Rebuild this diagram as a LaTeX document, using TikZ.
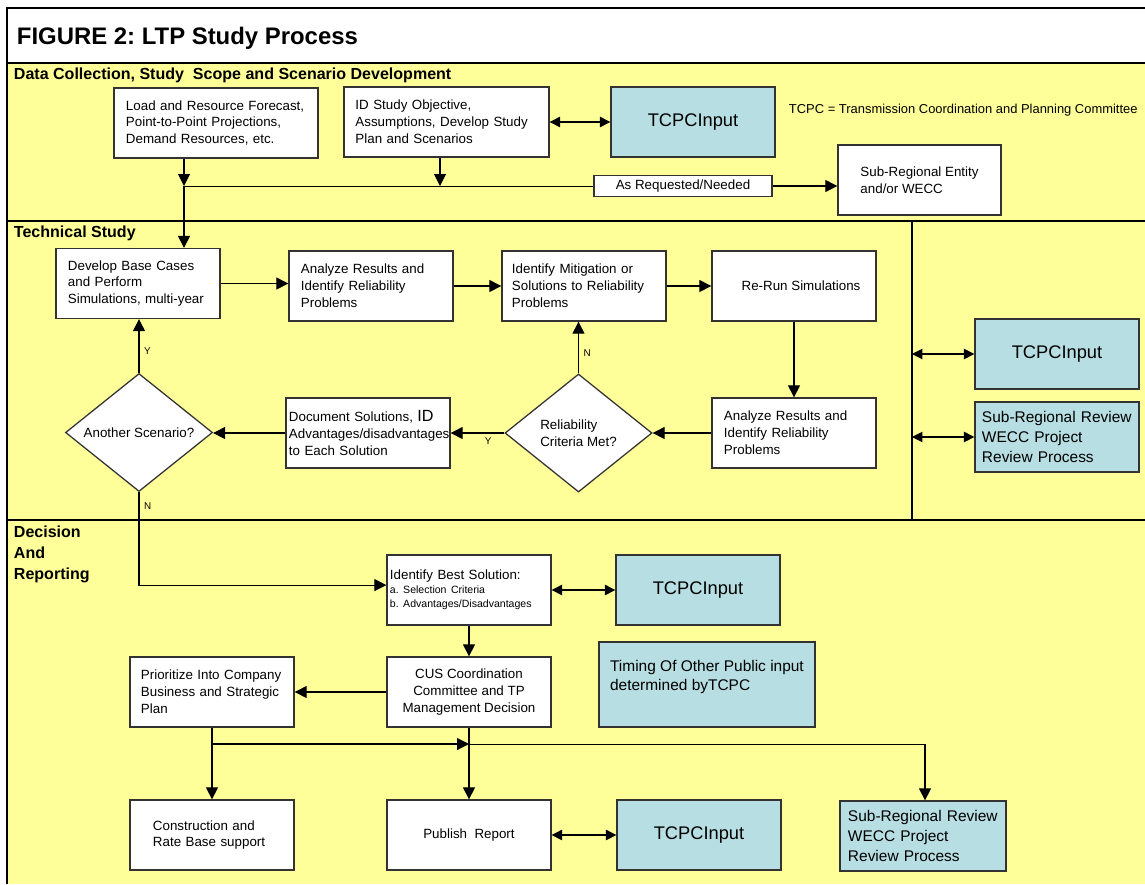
\documentclass[tikz,border=0pt]{standalone}
\usepackage{fontspec}
\setmainfont{Liberation Sans}
\usepackage{tikz}
\usetikzlibrary{calc,shapes.geometric,arrows.meta}
\usepackage{xcolor}
\definecolor{fond}{RGB}{255,255,153}
\definecolor{bleu}{RGB}{183,222,226}
\frenchspacing

\begin{document}
\begin{tikzpicture}[x=0.025cm,y=-0.025cm,
    boite/.style={draw=black!80,line width=0.9pt,fill=white,minimum width=4.1cm,minimum height=1.75cm,inner sep=2pt,align=left,font=\fontsize{9.5}{12}\selectfont},
    tcpc/.style={boite,fill=bleu,align=center,font=\fontsize{13}{15}\selectfont},
    revue/.style={boite,fill=bleu,text width=3.75cm,font=\fontsize{11}{14}\selectfont},
    losange/.style={diamond,aspect=1.25,draw=black!80,line width=0.9pt,fill=white,minimum width=3.675cm,minimum height=2.95cm,inner sep=1pt,align=left,font=\fontsize{9.5}{12}\selectfont},
    fleche/.style={-{Triangle[length=3mm,width=3mm]},line width=0.75pt},
    deux/.style={{Triangle[length=2.6mm,width=2.6mm]}-{Triangle[length=2.6mm,width=2.6mm]},line width=0.75pt},
    zone/.style={anchor=west,font=\bfseries\fontsize{11.4}{14}\selectfont},
    yn/.style={font=\fontsize{7}{8}\selectfont}]

      \useasboundingbox (0,0) rectangle (1145,884);

      % Cadre
      \fill[white] (8,8) rectangle (1145,63);
      \fill[fond] (8,63) rectangle (1145,884);
      \draw[line width=1pt] (8,63) -- (1145,63);
      \draw[line width=1pt] (8,221) -- (1145,221);
      \draw[line width=1pt] (8,520) -- (1145,520);
      \draw[line width=0.8pt] (912,221) -- (912,520);
      \draw[line width=2pt] (7,884) -- (7,8) -- (1145,8);

      \node[anchor=west,font=\bfseries\fontsize{17}{20}\selectfont] (titre) at (12,38) {FIGURE 2: LTP Study Process};
      \node[zone] (zoneA) at (9,75) {Data Collection, Study\ \ Scope and Scenario Development};
      \node[zone] (zoneB) at (9,233) {Technical Study};
      \node[zone,anchor=north west,align=left,font=\bfseries\fontsize{11.4}{15}\selectfont] (zoneC) at (9,521) {Decision\\And\\Reporting};

      % Collecte
      \node[boite,minimum width=5.1cm,text width=4.5cm] (load) at (216,123) {Load and Resource Forecast,\\Point-to-Point Projections,\\Demand Resources, etc.};
      \node[boite,minimum width=5.125cm,text width=4.55cm] (idobj) at (446.5,122) {ID Study Objective,\\Assumptions, Develop Study\\Plan and Scenarios};
      \node[tcpc] (tcpcA) at (693,122) {TCPCInput};
      \node[anchor=west,font=\fontsize{9.2}{12}\selectfont] (sigle) at (784,110) {TCPC = Transmission Coordination and Planning Committee};
      \node[boite,minimum width=4.075cm] (subent) at (919.5,180) {Sub-Regional Entity\\and/or WECC};
      \node[boite,minimum width=4.45cm,minimum height=0.525cm,align=center,inner sep=1pt] (asreq) at (683,186) {As Requested/Needed};

      \coordinate (jA) at (184,186);
      \coordinate (jB) at (440,186);
      \draw[fleche] (load.south -| jA) -- (jA);
      \draw[fleche] (idobj.south -| jB) -- (jB);
      \draw (jA) -- (asreq.west);
      \draw[fleche] (asreq.east) -- (asreq.east -| subent.west);
      \draw[deux] (idobj.east) -- (tcpcA.west);

      % Etude technique
      \node[boite,text width=3.5cm] (develop) at (138,283.5) {Develop Base Cases\\and Perform\\Simulations, multi-year};
      \node[boite,text width=3.5cm] (anaA) at (371,286) {Analyze Results and\\Identify Reliability\\Problems};
      \node[boite,text width=3.6cm] (mitig) at (584,286) {Identify Mitigation or\\Solutions to Reliability\\Problems};
      \node[boite] (rerun) at (794,286) {\hspace*{10pt}Re-Run Simulations};
      \node[boite,text width=3.5cm] (anaB) at (794,433) {Analyze Results and\\Identify Reliability\\Problems};
      \node[losange] (relia) at (578.5,433) {Reliability\\Criteria Met?};
      \node[boite,text width=3.95cm] (docsol) at (368,433) {Document Solutions, {\fontsize{11.5}{12}\selectfont ID}\\Advantages/disadvantages\\to Each Solution};
      \node[losange] (another) at (139,432.5) {Another Scenario?};
      \node[tcpc] (tcpcB) at (1057,354) {TCPCInput};
      \node[revue] (subrevA) at (1057,437) {Sub-Regional Review\\WECC Project\\Review Process};

      \draw[fleche] (jA) -- (jA |- develop.north);
      \draw[fleche] (develop.east) -- (develop.east -| anaA.west);
      \draw[fleche] (anaA.east) -- (mitig.west);
      \draw[fleche] (mitig.east) -- (rerun.west);
      \draw[fleche] (rerun.south) -- (anaB.north);
      \draw[fleche] (anaB.west) -- (relia.east);
      \draw[fleche] (relia.west) -- node[yn,below,pos=0.3] {Y} (docsol.east);
      \draw[fleche] (relia.north) -- node[yn,right,pos=0.4] {N} (relia.north |- mitig.south);
      \draw[fleche] (docsol.west) -- (docsol.west -| another.east);
      \draw[fleche] (another.north) -- node[yn,right,pos=0.4] {Y} (another.north |- develop.south);

      \coordinate (vA) at (912,354);
      \coordinate (vB) at (912,437);
      \draw[deux] (vA) -- (tcpcB.west);
      \draw[deux] (vB) -- (subrevA.west);

      % Decision
      \node[boite,text width=3.95cm] (best) at (469,590) {Identify Best Solution:\\[-2pt]{\fontsize{7.5}{9}\selectfont a. Selection Criteria}\\[-2pt]{\fontsize{7.5}{9}\selectfont b. Advantages/Disadvantages}};
      \node[tcpc] (tcpcC) at (698,590) {TCPCInput};
      \node[boite,align=center] (cus) at (469,692) {CUS Coordination\\Committee and TP\\Management Decision};
      \node[boite,fill=bleu,minimum width=5.4cm,minimum height=2.125cm] (timing) at (707,684.5) {};
      \node[anchor=north west,align=left,inner sep=2pt,font=\fontsize{11}{13.5}\selectfont] (timingtxt) at (607,657) {Timing Of Other Public input\\determined byTCPC};
      \node[boite,text width=3.55cm] (prio) at (212,692) {Prioritize Into Company\\Business and Strategic\\Plan};
      \node[boite,text width=2.95cm] (constr) at (212,835) {Construction and\\Rate Base support};
      \node[boite,align=center] (publish) at (469,835) {Publish\ \ Report};
      \node[tcpc] (tcpcD) at (699,835) {TCPCInput};
      \node[revue,minimum width=4.15cm] (subrevB) at (923,836) {Sub-Regional Review\\WECC Project\\Review Process};

      \coordinate (jF) at ([yshift=3.5pt]best.west);
      \draw[fleche] (another.south) -- node[yn,right,pos=0.15] {N} (another.south |- jF) -- (jF);
      \draw[fleche] (best.south) -- (cus.north);
      \draw[deux] (best.east) -- (tcpcC.west);
      \draw[fleche] (cus.west) -- (prio.east);
      \draw[fleche] (prio.south) -- (constr.north);

      \coordinate (jC) at (212,744);
      \coordinate (jD) at (469,744);
      \coordinate (jE) at (925,744);
      \draw[fleche] (jC) -- (jD);
      \draw (jD) -- (jE);
      \draw[fleche] (jE) -- (jE |- subrevB.north);
      \draw[fleche] (cus.south) -- (publish.north);
      \draw[deux] (publish.east) -- (tcpcD.west);
    \end{tikzpicture}
\end{document}
